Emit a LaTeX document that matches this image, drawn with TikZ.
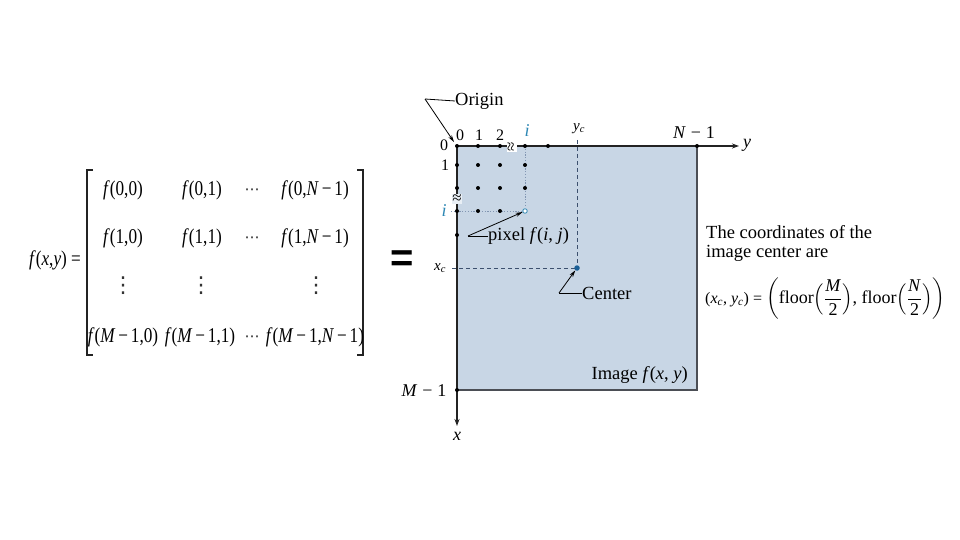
\documentclass[tikz,border=0pt]{standalone}
\usepackage{fontspec}
\usepackage{amsmath}
\usepackage{graphicx}
\setmainfont{Liberation Serif}
\newfontfamily\eqsans{Liberation Sans}
\newfontfamily\dejavu{DejaVu Sans}
\usetikzlibrary{arrows.meta}
\definecolor{imgfill}{RGB}{200,214,229}
\definecolor{lblblue}{RGB}{45,135,180}
\definecolor{dotline}{RGB}{130,150,178}
\definecolor{dashline}{RGB}{60,80,110}
\definecolor{ctrblue}{RGB}{25,95,150}
\definecolor{axisgray}{RGB}{35,35,35}
\definecolor{edgegray}{RGB}{75,78,85}
\newcommand\Nr[1]{\scalebox{0.82}[1]{#1}}
\begin{document}
\begin{tikzpicture}[x=1pt,y=-1pt,
  lbl/.style={inner sep=0pt, font=\fontsize{16}{18}\selectfont},
  big/.style={inner sep=0pt, font=\fontsize{18}{20}\selectfont},
  txt/.style={inner sep=0pt, font=\fontsize{18.5}{21}\selectfont},
  sub/.style={inner sep=0pt, font=\fontsize{15}{17}\selectfont},
  dotn/.style={circle, fill=black, inner sep=0pt, minimum size=4pt},
  mat/.style={inner sep=0pt, font=\fontsize{21}{24}\selectfont},
  vdot/.style={inner sep=0pt, font=\dejavu\fontsize{22}{24}\selectfont, text=black!80},
  hdot/.style={inner sep=0pt, font=\dejavu\fontsize{15}{16}\selectfont, text=black!85},
  axis/.style={axisgray, line width=1.3pt, -{Stealth[length=7pt,width=5pt]}},
  pointer/.style={black, line width=0.8pt, -{Stealth[length=7pt,width=4pt]}},
  dotted line/.style={dotline, line width=0.8pt, dash pattern=on 1.2pt off 1.6pt},
  dashed line/.style={dashline, line width=0.8pt, dash pattern=on 4pt off 3pt},
  bracket/.style={axisgray, line width=1.4pt}]
\useasboundingbox (0,0) rectangle (960,540);

% ---------------- matrix ----------------
\node[mat] (fxy) at (55,260) {\Nr{\textit{f}(\textit{x},\textit{y}) =}};
\draw[bracket] (93,170) -- (87,170) -- (87,355) -- (93,355);
\draw[bracket] (357,170) -- (363,170) -- (363,355) -- (357,355);
\node[mat] (m11) at (123,190) {\Nr{\textit{f}(0,0)}};
\node[mat] (m12) at (202,190) {\Nr{\textit{f}(0,1)}};
\node[hdot] (m13) at (252,192) {⋯};
\node[mat] (m14) at (315,190) {\Nr{\textit{f}(0,\textit{N}\,−\,1)}};
\node[mat] (m21) at (123,238) {\Nr{\textit{f}(1,0)}};
\node[mat] (m22) at (202,238) {\Nr{\textit{f}(1,1)}};
\node[hdot] (m23) at (252,240) {⋯};
\node[mat] (m24) at (315,238) {\Nr{\textit{f}(1,\textit{N}\,−\,1)}};
\node[vdot] (m31) at (123,286) {⋮};
\node[vdot] (m32) at (201,286) {⋮};
\node[vdot] (m34) at (316,286) {⋮};
\node[mat] (m41) at (123,337) {\Nr{\textit{f}(\textit{M}\,−\,1,0)}};
\node[mat] (m42) at (200,337) {\Nr{\textit{f}(\textit{M}\,−\,1,1)}};
\node[hdot] (m43) at (252,339) {⋯};
\node[mat] (m44) at (315,337) {\Nr{\textit{f}(\textit{M}\,−\,1,\textit{N}\,−\,1)}};

% big equals
\node[inner sep=0pt, font=\eqsans\bfseries\fontsize{40}{40}\selectfont] (eq) at (402,261) {=};

% ---------------- image ----------------
\coordinate (O) at (457,146);
\coordinate (TR) at (697,146);
\coordinate (BL) at (457,390);
\coordinate (BR) at (697,390);
\fill[imgfill] (O) rectangle (BR);
\draw[edgegray, line width=1.6pt] (BL) -- (BR) -- (TR);

% guide lines
\coordinate (itop) at (525,146);
\coordinate (ipix) at (525,211);
\coordinate (ileft) at (451,211);
\draw[dotted line] (ileft) -- (521.5,211);
\draw[dotted line] (itop) -- (525,207.5);
\coordinate (ctr) at (577,268);
\coordinate (xcl) at (452,268);
\coordinate (yct) at (577,140);
\draw[dashed line] (xcl) -- (ctr);
\draw[dashed line] (yct) -- (ctr);

% axes
\coordinate (yend) at (739,146);
\coordinate (xend) at (457,426);
\draw[axis] (O) -- (yend);
\draw[axis] (O) -- (xend);
\node[inner sep=0pt, font=\fontsize{18}{20}\selectfont] (ylab) at (747,145) {\textit{y}};
\node[inner sep=0pt, font=\fontsize{18}{20}\selectfont] (xlab) at (457,436) {\textit{x}};

% grid dots
\foreach \xx in {457,478,500,525,548,697} \node[dotn] at (\xx,146) {};
\foreach \yy in {165,188} {\foreach \xx in {457,478,500,525} \node[dotn] at (\xx,\yy) {};}
\foreach \xx in {457,478,500} \node[dotn] at (\xx,211) {};
\node[dotn] (d5) at (457,235) {};
\node[dotn] (dM) at (BL) {};
\node[circle, draw=lblblue, fill=white, line width=0.8pt, inner sep=0pt, minimum size=4.5pt] (pix) at (ipix) {};
\node[circle, fill=ctrblue, inner sep=0pt, minimum size=5.5pt] (cdot) at (ctr) {};

% break marks
\node[inner sep=0.4pt, fill=white, rotate=90, font=\fontsize{17}{17}\selectfont] (brk1) at (512,147) {≈};
\node[inner sep=0.2pt, fill=imgfill!40!white, font=\fontsize{17}{17}\selectfont] (brk2) at (457,199) {≈};

% axis labels
\node[lbl] (t0) at (460,135) {0};
\node[lbl] (t1) at (479,135) {1};
\node[lbl] (t2) at (500,135) {2};
\node[big, text=lblblue] (ti) at (527,131) {\textit{i}};
\node[sub] (tyc) at (579,129) {\textit{y}\textsubscript{\textit{c}}};
\node[big] (tN) at (694,133) {\textit{N}\;−\;1};
\node[lbl] (l0) at (444,145) {0};
\node[lbl] (l1) at (445,165) {1};
\node[big, text=lblblue] (li) at (444,211) {\textit{i}};
\node[sub] (lxc) at (440,268) {\textit{x}\textsubscript{\textit{c}}};
\node[big] (lM) at (424,391) {\textit{M}\;−\;1};

% callouts
\node[txt, anchor=west] (origin) at (455,101) {Origin};
\coordinate (ok) at (425,99);
\draw[black, line width=0.8pt] (origin.west) -- (ok);
\draw[pointer] (ok) -- (454,142);

\node[txt, anchor=west] (pixel) at (488,236) {pixel \textit{f}(\textit{i}, \textit{j})};
\coordinate (pk) at (468,236);
\draw[black, line width=0.8pt] (pixel.west) -- (pk);
\draw[pointer] (pk) -- (pix);

\node[txt, anchor=west] (center) at (582,293) {Center};
\coordinate (ck) at (559,293);
\draw[black, line width=0.8pt] (center.west) -- (ck);
\draw[pointer] (ck) -- (cdot);

\node[txt, anchor=east] (image) at (688,375) {Image \textit{f}(\textit{x}, \textit{y})};

% right-hand text
\node[txt, anchor=west] (note1) at (706,232) {The coordinates of the};
\node[txt, anchor=west] (note2) at (706,253) {image center are};
\node[inner sep=0pt, anchor=west] (formula) at (705,299) {\fontsize{16}{18}\selectfont(\textit{x}\textsubscript{\textit{c}}, \textit{y}\textsubscript{\textit{c}}) = \fontsize{18}{20}\selectfont$\biggl(\text{floor}\Bigl(\dfrac{\text{\textit{M}}}{\text{2}}\Bigr)\text{, floor}\Bigl(\dfrac{\text{\textit{N}}}{\text{2}}\Bigr)\biggr)$};
\end{tikzpicture}
\end{document}
